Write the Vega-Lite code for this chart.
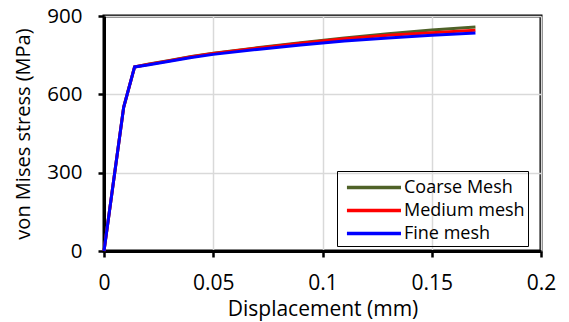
{
  "$schema": "https://vega.github.io/schema/vega-lite/v6.json",
  "width": 437,
  "height": 235,
  "autosize": "none",
  "padding": {"left": 104, "top": 16, "right": 28, "bottom": 71},
  "background": "white",
  "config": {
    "font": "Open Sans",
    "view": {"stroke": "black", "strokeWidth": 3},
    "axis": {
      "domainColor": "black", "domainWidth": 3,
      "tickColor": "black", "tickWidth": 2.5, "tickSize": 6,
      "gridColor": "#d9d9d9", "gridWidth": 1.5,
      "labelFont": "Open Sans", "labelColor": "black",
      "titleFont": "Open Sans", "titleFontWeight": "normal", "titleColor": "black"
    }
  },
  "data": {
    "values": [
      {"d": 0, "s": 0, "series": "Coarse Mesh"},
      {"d": 0.009, "s": 550, "series": "Coarse Mesh"},
      {"d": 0.014, "s": 705, "series": "Coarse Mesh"},
      {"d": 0.02, "s": 715, "series": "Coarse Mesh"},
      {"d": 0.03, "s": 730, "series": "Coarse Mesh"},
      {"d": 0.04, "s": 745, "series": "Coarse Mesh"},
      {"d": 0.05, "s": 757, "series": "Coarse Mesh"},
      {"d": 0.07, "s": 778, "series": "Coarse Mesh"},
      {"d": 0.09, "s": 798, "series": "Coarse Mesh"},
      {"d": 0.11, "s": 816, "series": "Coarse Mesh"},
      {"d": 0.13, "s": 832, "series": "Coarse Mesh"},
      {"d": 0.15, "s": 846, "series": "Coarse Mesh"},
      {"d": 0.17, "s": 858, "series": "Coarse Mesh"},
      {"d": 0, "s": 0, "series": "Medium mesh"},
      {"d": 0.009, "s": 550, "series": "Medium mesh"},
      {"d": 0.014, "s": 705, "series": "Medium mesh"},
      {"d": 0.02, "s": 714, "series": "Medium mesh"},
      {"d": 0.03, "s": 729, "series": "Medium mesh"},
      {"d": 0.04, "s": 744, "series": "Medium mesh"},
      {"d": 0.05, "s": 756, "series": "Medium mesh"},
      {"d": 0.07, "s": 777, "series": "Medium mesh"},
      {"d": 0.09, "s": 796, "series": "Medium mesh"},
      {"d": 0.11, "s": 813, "series": "Medium mesh"},
      {"d": 0.13, "s": 826, "series": "Medium mesh"},
      {"d": 0.15, "s": 836, "series": "Medium mesh"},
      {"d": 0.17, "s": 845, "series": "Medium mesh"},
      {"d": 0, "s": 0, "series": "Fine mesh"},
      {"d": 0.009, "s": 550, "series": "Fine mesh"},
      {"d": 0.014, "s": 705, "series": "Fine mesh"},
      {"d": 0.02, "s": 712, "series": "Fine mesh"},
      {"d": 0.03, "s": 727, "series": "Fine mesh"},
      {"d": 0.04, "s": 741, "series": "Fine mesh"},
      {"d": 0.05, "s": 753, "series": "Fine mesh"},
      {"d": 0.07, "s": 772, "series": "Fine mesh"},
      {"d": 0.09, "s": 789, "series": "Fine mesh"},
      {"d": 0.11, "s": 804, "series": "Fine mesh"},
      {"d": 0.13, "s": 816, "series": "Fine mesh"},
      {"d": 0.15, "s": 826, "series": "Fine mesh"},
      {"d": 0.17, "s": 835, "series": "Fine mesh"}
    ]
  },
  "mark": {"type": "line", "strokeWidth": 3},
  "encoding": {
    "x": {
      "field": "d", "type": "quantitative",
      "scale": {"domain": [0, 0.2], "nice": false, "zero": true},
      "axis": {"values": [0, 0.05, 0.1, 0.15, 0.2], "format": "~g", "title": "Displacement (mm)", "labelFontSize": 21, "titleFontSize": 21, "labelFlush": false, "labelPadding": 15, "titlePadding": 5}
    },
    "y": {
      "field": "s", "type": "quantitative",
      "scale": {"domain": [0, 900], "nice": false},
      "axis": {"values": [0, 300, 600, 900], "title": "von Mises stress (MPa)", "labelFontSize": 20.5, "titleFontSize": 20, "labelPadding": 16, "titlePadding": 13}
    },
    "color": {
      "field": "series", "type": "nominal",
      "sort": ["Coarse Mesh", "Medium mesh", "Fine mesh"],
      "scale": {"domain": ["Coarse Mesh", "Medium mesh", "Fine mesh"], "range": ["#4f6228", "#ff0000", "#0000ff"]},
      "legend": {
        "title": null, "orient": "none", "legendX": 233, "legendY": 155,
        "strokeColor": "black", "padding": 3,
        "symbolType": "M-0.57,0H4.13", "symbolSize": 529, "symbolStrokeWidth": 3.5,
        "labelFontSize": 18, "labelFont": "Open Sans", "labelColor": "black", "rowPadding": 0, "labelOffset": 37
      }
    }
  }
}
